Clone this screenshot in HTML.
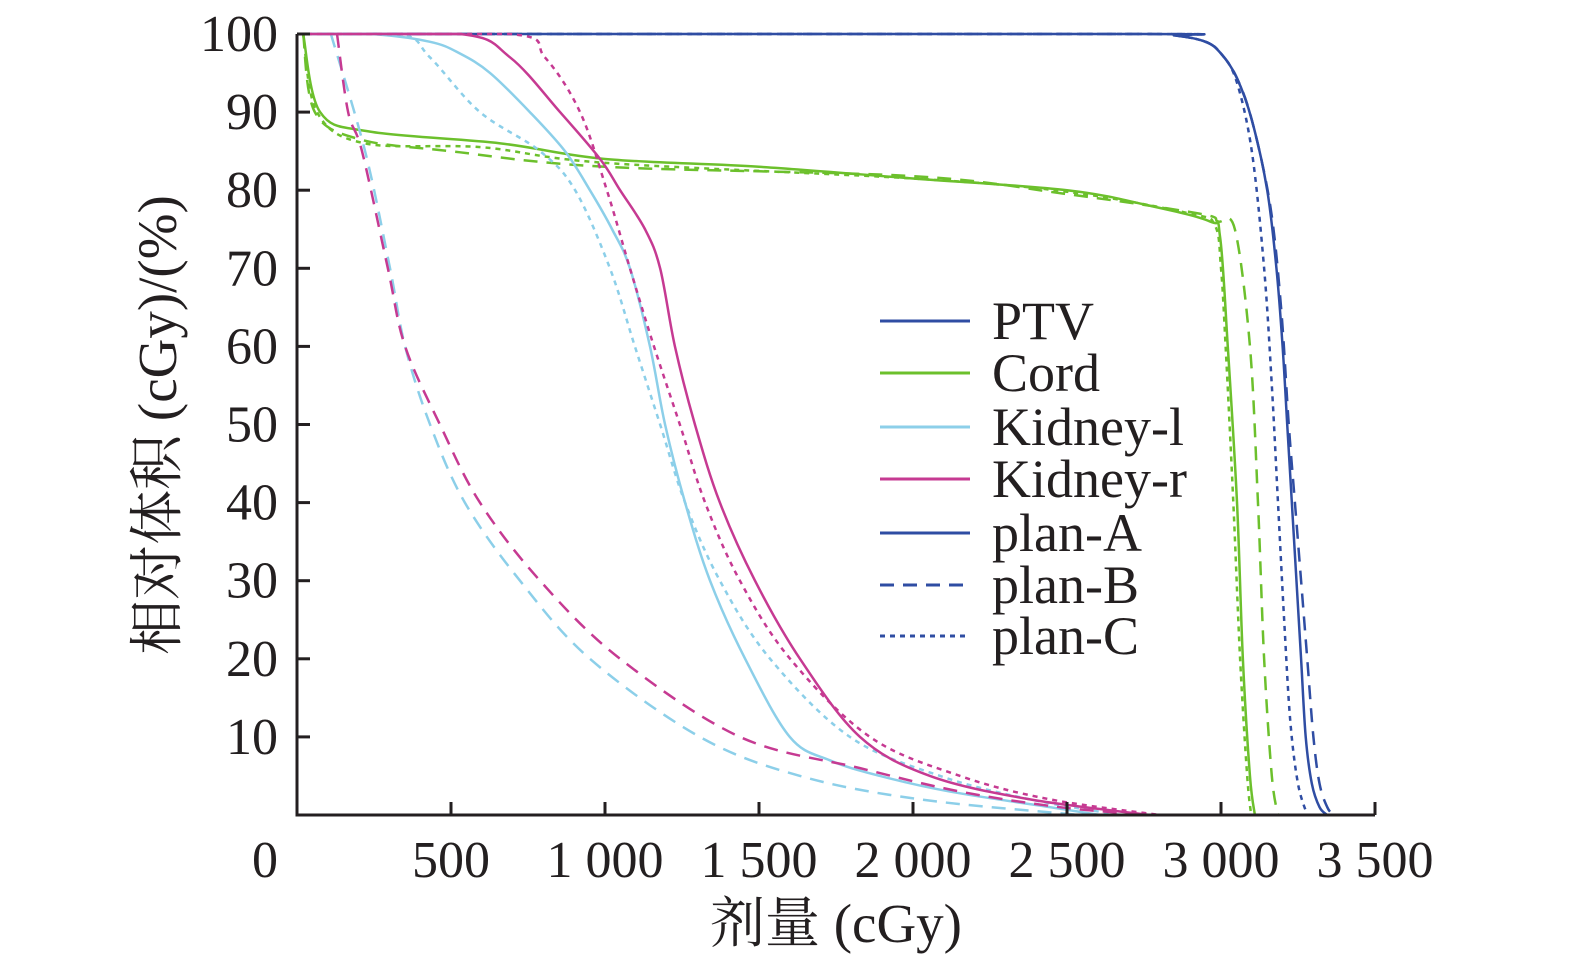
<!DOCTYPE html>
<html><head><meta charset="utf-8"><style>
body{margin:0;background:#fff}
svg{display:block}
text{font-family:"Liberation Serif","Noto Serif CJK SC",serif;fill:#231f20}
</style></head><body>
<svg id="c" width="1575" height="967" viewBox="0 0 1575 967" xmlns="http://www.w3.org/2000/svg"></svg>
<script>
const xTicks=[0,500,1000,1500,2000,2500,3000,3500];
const xTickLabels=["0","500","1 000","1 500","2 000","2 500","3 000","3 500"];
const yTicks=[10,20,30,40,50,60,70,80,90,100];
const ptvA=[[0,100],[2700,100],[2850,99.8],[2950,99],[3000,97.5],[3050,94.5],[3100,89],[3150,80],[3180,70],[3200,60],[3215,50],[3230,40],[3245,30],[3260,20],[3275,10],[3295,4],[3320,1],[3345,0]];
const ptvB=[[0,100],[2700,100],[2850,99.8],[2950,99],[3000,97.5],[3050,94.5],[3100,89],[3160,78],[3195,65],[3220,50],[3240,40],[3260,30],[3280,20],[3300,10],[3320,4],[3345,1],[3365,0]];
const ptvC=[[0,100],[2700,100],[2850,99.8],[2950,99],[3000,97.5],[3050,94],[3100,85],[3140,70],[3165,55],[3185,40],[3205,25],[3225,12],[3250,4],[3280,0]];
const cordA=[[20,100],[75,90],[237,87.5],[660,86],[1000,84],[1500,83],[2000,81.5],[2500,80],[2770,78],[2964,76],[2997,74],[3022,60],[3052,40],[3071,20],[3094,5],[3110,0]];
const cordB=[[20,100],[58,90],[205,86.5],[497,85],[1000,83],[2000,81.8],[2500,79.5],[2930,77],[2990,76],[3045,75],[3094,60],[3120,40],[3140,20],[3165,5],[3185,0]];
const cordC=[[20,100],[65,90],[220,86],[600,85.5],[1000,83.5],[2000,81.5],[2500,79.8],[2900,77],[2980,75.5],[3000,70],[3015,60],[3040,40],[3062,20],[3085,5],[3098,0]];
const kidLA=[[0,100],[237,100],[432,99],[529,97.5],[627,95],[756,90],[870,85],[951,80],[1023,75],[1081,70],[1146,60],[1195,50],[1260,40],[1341,30],[1455,20],[1600,10],[1730,7],[1893,5],[2120,3],[2445,1],[2607,0]];
const kidLB=[[110,100],[221,85],[302,70],[351,60],[432,50],[545,40],[724,30],[951,20],[1308,10],[1633,5],[2023,2],[2542,0]];
const kidLC=[[0,100],[334,100],[432,97],[594,90],[789,85],[903,80],[1016,70],[1097,60],[1179,50],[1260,40],[1373,30],[1536,20],[1795,10],[2088,5],[2380,2],[2672,0]];
const kidRA=[[0,100],[529,100],[692,97],[854,90],[984,84],[1049,80],[1130,75],[1179,70],[1227,60],[1292,50],[1373,40],[1487,30],[1633,20],[1828,10],[2055,5],[2380,2],[2769,0]];
const kidRB=[[130,100],[166,90],[211,85],[295,70],[351,60],[464,50],[594,40],[789,30],[1049,20],[1438,10],[1828,6],[2153,3],[2477,1],[2769,0]];
const kidRC=[[0,100],[692,100],[805,97],[919,90],[1006,80],[1081,70],[1159,60],[1243,50],[1325,40],[1438,30],[1601,20],[1860,10],[2153,5],[2445,2],[2802,0]];
const legendLabels=["PTV","Cord","Kidney-l","Kidney-r","plan-A","plan-B","plan-C"];

const NS="http://www.w3.org/2000/svg";
const svg=document.getElementById('c');
const X=d=>297+d*0.308, Y=v=>815-v*7.81;
function mk(t,a){const e=document.createElementNS(NS,t);for(const k in a)e.setAttribute(k,a[k]);svg.appendChild(e);return e;}
function path(pts){
  const p=pts.map(q=>[X(q[0]),Y(q[1])]);
  let d="M"+p[0][0]+","+p[0][1];
  for(let i=0;i<p.length-1;i++){
    const p0=p[i-1]||p[i],p1=p[i],p2=p[i+1],p3=p[i+2]||p2;
    let c1=[p1[0]+(p2[0]-p0[0])/6,p1[1]+(p2[1]-p0[1])/6];
    let c2=[p2[0]-(p3[0]-p1[0])/6,p2[1]-(p3[1]-p1[1])/6];
    c1[1]=Math.max(c1[1],Y(100));c2[1]=Math.max(c2[1],Y(100));
    d+=`C${c1[0]},${c1[1]} ${c2[0]},${c2[1]} ${p2[0]},${p2[1]}`;
  }
  return d;
}
const cols={ptv:"#2f4da3",cord:"#6cc02c",kl:"#8ccfe9",kr:"#c63a92"};
const dashes={A:"none",B:"14 9",C:"5 5"};
const series=[["ptv","A",ptvA],["ptv","B",ptvB],["ptv","C",ptvC],["cord","A",cordA],["cord","B",cordB],["cord","C",cordC],["kl","A",kidLA],["kl","B",kidLB],["kl","C",kidLC],["kr","A",kidRA],["kr","B",kidRB],["kr","C",kidRC]];
series.forEach(s=>{
  const e=mk('path',{d:path(s[2]),fill:"none",stroke:cols[s[0]],"stroke-width":2.5,"stroke-dasharray":dashes[s[1]]});
  
  
});
const ax=mk('path',{d:"M297,34V815H1375",fill:"none",stroke:"#231f20","stroke-width":3});


xTicks.forEach((t,i)=>{
  if(t>0){const k=mk('line',{x1:X(t),x2:X(t),y1:815,y2:802,stroke:"#231f20","stroke-width":3});
  
  }
  const l=mk('text',{x:t===0?265:X(t),y:877,"font-size":52,"text-anchor":"middle"});
  l.textContent=xTickLabels[i];
  
  
});
yTicks.forEach(t=>{
  const k=mk('line',{x1:297,x2:310,y1:Y(t),y2:Y(t),stroke:"#231f20","stroke-width":3});
  
  
  const l=mk('text',{x:278,y:Y(t)+17,"font-size":52,"text-anchor":"end"});
  l.textContent=t;
  
  
});
const xt=mk('text',{x:836,y:942,"font-size":55,"text-anchor":"middle"});
xt.textContent="剂量 (cGy)";


const yt=mk('text',{x:0,y:0,"font-size":55,"text-anchor":"middle",transform:"translate(176,425) rotate(-90)"});
yt.textContent="相对体积 (cGy)/(%)";


const legCols=[cols.ptv,cols.cord,cols.kl,cols.kr,cols.ptv,cols.ptv,cols.ptv];
const legDash=["none","none","none","none","none",dashes.B,dashes.C];
const legY=[321,373,427,479,533,585,636];
legendLabels.forEach((n,i)=>{
  const g=mk('g',{});
  
  
  const ln=document.createElementNS(NS,'line');
  [["x1",880],["x2",970],["y1",legY[i]],["y2",legY[i]],["stroke",legCols[i]],["stroke-width",3],["stroke-dasharray",legDash[i]]].forEach(a=>ln.setAttribute(a[0],a[1]));
  g.appendChild(ln);
  const tx=document.createElementNS(NS,'text');
  tx.setAttribute('x',992);tx.setAttribute('y',legY[i]+18);tx.setAttribute('font-size',54);
  tx.textContent=n;
  g.appendChild(tx);
});
</script>
</body></html>
